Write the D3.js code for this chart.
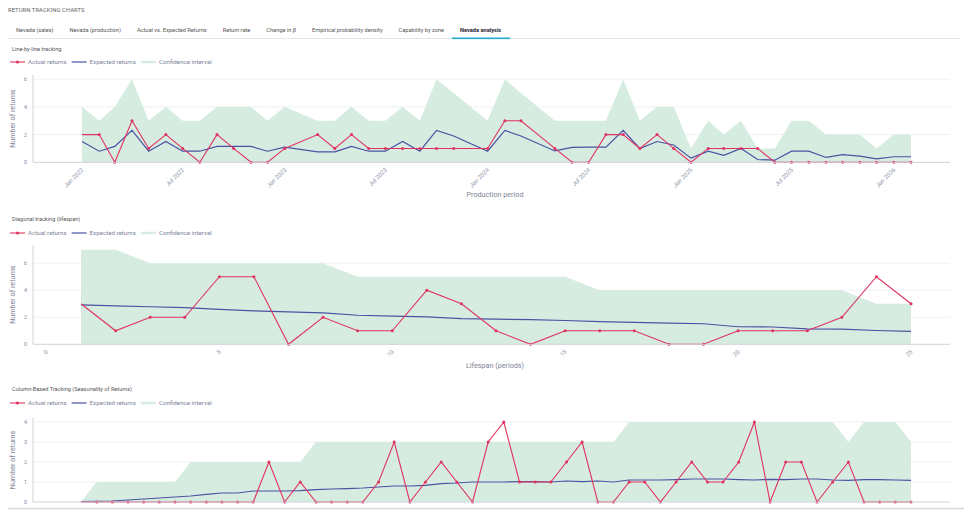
<!DOCTYPE html>
<html>
<head>
<meta charset="utf-8">
<script src="https://cdn.jsdelivr.net/npm/d3@7"></script>
<style>
    body { margin: 0; background: #fff; font-family: Roboto, "Noto Sans", sans-serif; }
    svg { display: block; }
    .page-title { fill: #666; font-size: 5.8px; letter-spacing: 0.1px; }
    .tab { fill: #555; font-size: 5.65px; }
    .tab.active { fill: #1f2330; font-weight: 700; }
    .chart-title { fill: #555; font-size: 5.6px; }
    .legend-text { fill: #7d8597; font-size: 6.2px; }
    .tick-label { fill: #8c95a8; font-size: 6px; }
    .axis-title { fill: #7d8597; font-size: 7.2px; }
    .gridline { stroke: #eef0f5; stroke-width: 1; }
    .axis-line { stroke: #cfd3da; stroke-width: 1; }
    .ci-area { fill: #d6ece0; }
    .expected-line { fill: none; stroke: #4a52a3; stroke-width: 1.2; }
    .actual-line { fill: none; stroke: #e0335f; stroke-width: 1.1; }
    .actual-dot { fill: #e0335f; }
</style>
</head>
<body>
<div id="page"></div>
<script>
// tabs across the top
const tabLabels = ["Nevada (sales)", "Nevada (production)", "Actual vs. Expected Returns", "Return rate",
    "Change in \u03b2", "Empirical probability density", "Capability by zone", "Nevada analysis"];
const activeTab = "Nevada analysis";

// line-by-line tracking (by production month, some months have no record)
const lineMonths = ["2022-01","2022-02","2022-03","2022-04","2022-05","2022-06","2022-07","2022-08","2022-09",
    "2022-10","2022-11","2022-12","2023-01","2023-03","2023-04","2023-05","2023-06","2023-07","2023-08",
    "2023-09","2023-10","2023-11","2024-01","2024-02","2024-03","2024-05","2024-06","2024-07","2024-08",
    "2024-09","2024-10","2024-11","2024-12","2025-01","2025-02","2025-03","2025-04","2025-05","2025-06",
    "2025-07","2025-08","2025-09","2025-10","2025-11","2025-12","2026-01","2026-02"];
const lineActual = [2,2,0,3,1,2,1,0,2,1,0,0,1,2,1,2,1,1,1,1,1,1,1,3,3,1,0,0,2,2,1,2,1,0,1,1,1,1,0,0,0,0,0,0,0,0,0];
const lineExpected = [1.5,0.8,1.15,2.3,0.8,1.5,0.8,0.8,1.15,1.15,1.15,0.8,1.1,0.75,0.75,1.15,0.8,0.8,1.5,0.8,
    2.3,1.9,0.8,2.3,1.9,0.82,1.08,1.1,1.1,2.3,1.0,1.5,1.25,0.3,0.8,0.5,1.0,0.2,0.15,0.8,0.8,0.35,0.55,0.45,
    0.25,0.4,0.4];
const lineUpper = [4,3,4,6,3,4,3,3,4,4,4,3,4,3,3,4,3,3,4,3,6,5,3,6,5,3,3,3,3,6,3,4,4,1,3,2,3,1,1,3,3,2,2,2,1,2,2];

// diagonal tracking (lifespan in periods)
const diagPeriods = [1,2,3,4,5,6,7,8,9,10,11,12,13,14,15,16,17,18,19,20,21,22,23,24,25];
const diagActual = [3,1,2,2,5,5,0,2,1,1,4,3,1,0,1,1,1,0,0,1,1,1,2,5,3];
const diagExpected = [2.92,2.85,2.78,2.72,2.58,2.48,2.4,2.32,2.15,2.08,2.03,1.9,1.86,1.82,1.76,1.68,1.62,
    1.56,1.52,1.3,1.28,1.14,1.13,1.02,0.96];
const diagUpper = [7,7,6,6,6,6,6,6,5,5,5,5,5,5,5,4,4,4,4,4,4,4,4,3,3];
const diagTicks = [0,5,10,15,20,25];

// column-based tracking (seasonality)
const seasonIndex = d3.range(1, 55);
const seasonActual = [0,0,0,0,0,0,0,0,0,0,0,0,2,0,1,0,0,0,0,1,3,0,1,2,1,0,3,4,1,1,1,2,3,0,0,1,1,0,1,2,1,1,
    2,4,0,2,2,0,1,2,0,0,0,0];
const seasonExpected = [0.02,0.03,0.05,0.1,0.15,0.2,0.25,0.3,0.38,0.45,0.45,0.55,0.55,0.55,0.57,0.62,0.65,
    0.67,0.7,0.75,0.8,0.8,0.83,0.92,0.95,1.0,1.0,1.0,1.02,1.02,1.0,1.05,1.02,1.05,1.0,1.1,1.1,1.1,1.12,1.15,
    1.15,1.15,1.12,1.1,1.13,1.12,1.15,1.15,1.1,1.08,1.12,1.12,1.1,1.08];
const seasonUpper = [0,1,1,1,1,1,1,2,2,2,2,2,2,2,2,3,3,3,3,3,3,3,3,3,3,3,3,3,3,3,3,3,3,3,3,4,4,4,4,4,4,4,
    4,4,4,4,4,4,4,3,4,4,4,3];

const parseMonth = d3.timeParse("%Y-%m");

function TrackingChart(svg, config) {
    let vis = this;
    vis.svg = svg;
    vis.config = config;
    vis.initVis();
}

TrackingChart.prototype.initVis = function() {
    let vis = this;
    let c = vis.config;
    vis.left = 33;
    vis.right = 950;
    vis.g = vis.svg.append("g");

    vis.g.append("text")
        .attr("class", "chart-title")
        .attr("x", 12)
        .attr("y", c.titleY)
        .text(c.title);

    // legend: red line with dot, blue line, green swatch
    let lg = vis.g.append("g").attr("transform", "translate(10," + c.legendY + ")");
    let lx = 0;
    [["actual", "Actual returns"], ["expected", "Expected returns"], ["ci", "Confidence interval"]].forEach(item => {
        if (item[0] === "ci") {
            lg.append("rect").attr("x", lx).attr("y", -1.2).attr("width", 15).attr("height", 2.4)
                .attr("fill", "#d6ece0");
        } else {
            lg.append("line").attr("x1", lx).attr("x2", lx + 15).attr("y1", 0).attr("y2", 0)
                .attr("class", item[0] + "-line").attr("stroke-width", 1.6);
            if (item[0] === "actual") {
                lg.append("circle").attr("cx", lx + 7.5).attr("cy", 0).attr("r", 1.6).attr("class", "actual-dot");
            }
        }
        let t = lg.append("text").attr("class", "legend-text").attr("x", lx + 18).attr("y", 2.2).text(item[1]);
        lx += 18 + t.node().getComputedTextLength() + 5;
    });

    vis.x = c.xScale;
    vis.y = d3.scaleLinear()
        .domain([0, d3.max(c.upper.concat(c.actual)) * 1.05])
        .range([c.baseline, c.top]);

    vis.updateVis();
}

TrackingChart.prototype.updateVis = function() {
    let vis = this;
    let c = vis.config;
    let data = c.keys.map((k, i) => ({key: k, actual: c.actual[i], expected: c.expected[i], upper: c.upper[i]}));

    // gridlines
    vis.g.selectAll(".gridline")
        .data(vis.y.ticks(4).filter(d => d > 0))
        .enter()
        .append("line")
        .attr("class", "gridline")
        .attr("x1", vis.left)
        .attr("x2", vis.right)
        .attr("y1", d => vis.y(d))
        .attr("y2", d => vis.y(d));

    // confidence band from zero up to the upper bound
    vis.g.append("path")
        .datum(data)
        .attr("class", "ci-area")
        .attr("d", d3.area()
            .x(d => vis.x(d.key))
            .y0(vis.y(0))
            .y1(d => vis.y(d.upper)));

    vis.g.append("path")
        .datum(data)
        .attr("class", "expected-line")
        .attr("d", d3.line().x(d => vis.x(d.key)).y(d => vis.y(d.expected)));

    vis.g.append("path")
        .datum(data)
        .attr("class", "actual-line")
        .attr("d", d3.line().x(d => vis.x(d.key)).y(d => vis.y(d.actual)));

    vis.g.selectAll(".actual-dot")
        .data(data)
        .enter()
        .append("circle")
        .attr("class", "actual-dot")
        .attr("cx", d => vis.x(d.key))
        .attr("cy", d => vis.y(d.actual))
        .attr("r", 1.5);

    // axes
    vis.g.append("line").attr("class", "axis-line")
        .attr("x1", vis.left).attr("x2", vis.left)
        .attr("y1", vis.y.range()[1]).attr("y2", vis.y(0));
    vis.g.append("line").attr("class", "axis-line")
        .attr("x1", vis.left).attr("x2", vis.right)
        .attr("y1", vis.y(0)).attr("y2", vis.y(0));

    vis.g.selectAll(".y-label")
        .data(vis.y.ticks(4))
        .enter()
        .append("text")
        .attr("class", "tick-label y-label")
        .attr("x", 27)
        .attr("y", d => vis.y(d) + 2)
        .attr("text-anchor", "end")
        .text(d => d);

    vis.g.append("text")
        .attr("class", "axis-title")
        .attr("transform", "translate(15," + ((c.top + c.baseline) / 2) + ") rotate(-90)")
        .attr("text-anchor", "middle")
        .text("Number of returns");

    if (c.xTicks) {
        vis.g.selectAll(".x-label")
            .data(c.xTicks)
            .enter()
            .append("text")
            .attr("class", "tick-label x-label")
            .attr("text-anchor", "end")
            .attr("transform", d => "translate(" + (vis.x(d) + 2) + "," + (vis.y(0) + 8) + ") rotate(-45)")
            .text(c.xFormat);

        vis.g.append("text")
            .attr("class", "axis-title")
            .attr("x", 495)
            .attr("y", c.xTitleY)
            .attr("text-anchor", "middle")
            .text(c.xTitle);
    }
}

// page frame
const svg = d3.select("#page").append("svg")
    .attr("width", 964)
    .attr("height", 510);

svg.append("text")
    .attr("class", "page-title")
    .attr("x", 8)
    .attr("y", 12)
    .text("RETURN TRACKING CHARTS");

svg.append("line")
    .attr("x1", 8).attr("x2", 960)
    .attr("y1", 38.5).attr("y2", 38.5)
    .attr("stroke", "#e4e7ec");

let tabX = 16;
tabLabels.forEach(label => {
    let t = svg.append("text")
        .attr("class", label === activeTab ? "tab active" : "tab")
        .attr("x", tabX)
        .attr("y", 32)
        .text(label);
    let w = t.node().getComputedTextLength();
    if (label === activeTab) {
        svg.append("rect")
            .attr("x", tabX - 8).attr("y", 37.5)
            .attr("width", w + 17).attr("height", 1.6)
            .attr("fill", "#25aac6");
    }
    tabX += w + 16;
});

let months = lineMonths.map(parseMonth);
new TrackingChart(svg, {
    title: "Line-by-line tracking",
    titleY: 51, legendY: 62,
    top: 75, baseline: 162.3,
    keys: months, actual: lineActual, expected: lineExpected, upper: lineUpper,
    xScale: d3.scaleTime().domain(d3.extent(months)).range([82, 911]),
    xTicks: d3.timeMonth.every(6).range(months[0], d3.timeMonth.offset(months[months.length - 1], 1)),
    xFormat: d3.timeFormat("%b %Y"),
    xTitle: "Production period", xTitleY: 197
});

new TrackingChart(svg, {
    title: "Diagonal tracking (lifespan)",
    titleY: 221, legendY: 233,
    top: 245, baseline: 344.3,
    keys: diagPeriods, actual: diagActual, expected: diagExpected, upper: diagUpper,
    xScale: d3.scaleLinear().domain([1, 25]).range([81, 911]),
    xTicks: diagTicks,
    xFormat: d => d,
    xTitle: "Lifespan (periods)", xTitleY: 368
});

new TrackingChart(svg, {
    title: "Column-Based Tracking (Seasonality of Returns)",
    titleY: 391, legendY: 403,
    top: 418, baseline: 502,
    keys: seasonIndex, actual: seasonActual, expected: seasonExpected, upper: seasonUpper,
    xScale: d3.scaleLinear().domain([1, 54]).range([81, 911]),
    xTicks: null
});

svg.append("line")
    .attr("x1", 8).attr("x2", 964)
    .attr("y1", 508.5).attr("y2", 508.5)
    .attr("stroke", "#d5d7db")
    .attr("stroke-width", 1.5);
</script>
</body>
</html>
